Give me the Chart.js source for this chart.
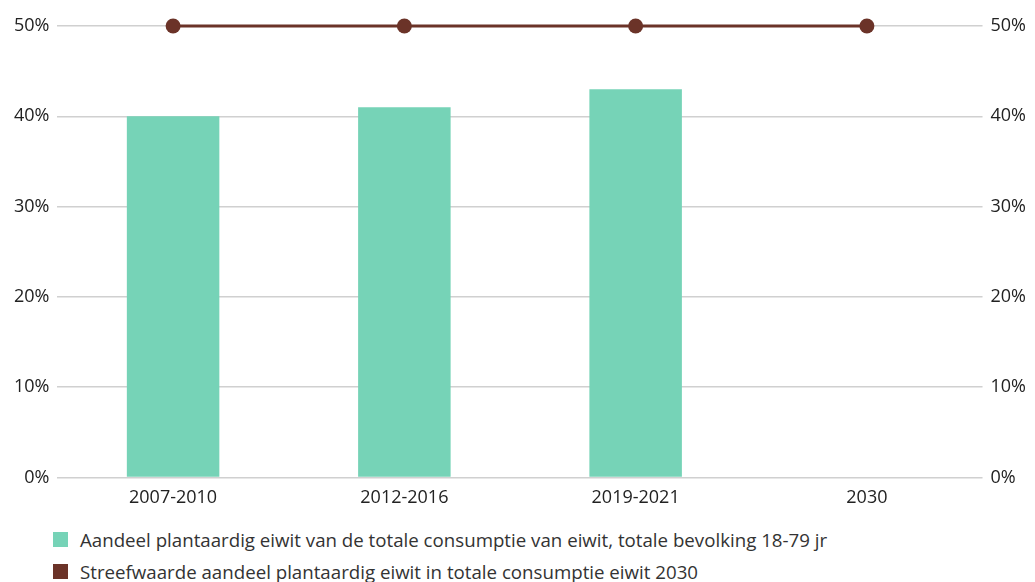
<!DOCTYPE html>
<html lang="nl">
<head>
<meta charset="utf-8">
<script src="https://cdn.jsdelivr.net/npm/chart.js@4/dist/chart.umd.min.js"></script>
<style>
  html, body { margin: 0; padding: 0; background: #fff; }
  body { width: 1035px; height: 582px; overflow: hidden; font-family: "Open Sans", sans-serif; color: #333; }
  .chart-container { position: relative; width: 1035px; height: 519px; }
  #legend { margin: 4px 0 0 53px; padding: 0; list-style: none; }
  #legend li { display: flex; align-items: center; height: 32px; font-size: 18.7px; color: #333; white-space: nowrap; }
  #legend .box { width: 15px; height: 15px; margin-right: 12px; flex: none; }
</style>
</head>
<body>
<div class="chart-container"><canvas id="chart"></canvas></div>
<ul id="legend"></ul>
<script>
// data
const periods = ['2007-2010', '2012-2016', '2019-2021', '2030'];
const aandeelPlantaardig = [40, 41, 43, null];
const streefwaarde = [50, 50, 50, 50];
const yTicks = [0, 10, 20, 30, 40, 50];

const labelBars = 'Aandeel plantaardig eiwit van de totale consumptie van eiwit, totale bevolking 18-79 jr';
const labelLine = 'Streefwaarde aandeel plantaardig eiwit in totale consumptie eiwit 2030';

const groen = '#76d3b7';
const bruin = '#6b3328';

const tickFont = { family: '"Open Sans", sans-serif', size: 18 };

function yAxis(position, showGrid) {
    return {
        position: position,
        min: 0,
        max: 50,
        afterBuildTicks: function(axis) {
            axis.ticks = yTicks.map(v => ({ value: v }));
        },
        ticks: {
            callback: v => v + '%',
            font: tickFont,
            color: '#222',
            padding: 8
        },
        grid: { display: showGrid, color: '#d0d0d0', lineWidth: 1.5, drawTicks: false },
        border: { display: false }
    };
}

const chart = new Chart(document.getElementById('chart'), {
    type: 'bar',
    data: {
        labels: periods,
        datasets: [
            {
                type: 'line',
                label: labelLine,
                data: streefwaarde,
                borderColor: bruin,
                backgroundColor: bruin,
                borderWidth: 3,
                pointRadius: 7.5,
                pointHoverRadius: 7.5,
                pointBackgroundColor: bruin,
                pointBorderWidth: 0,
                clip: false,
                yAxisID: 'y',
                order: 0
            },
            {
                type: 'bar',
                label: labelBars,
                data: aandeelPlantaardig,
                backgroundColor: groen,
                barPercentage: 0.4,
                categoryPercentage: 1,
                yAxisID: 'y',
                order: 1
            }
        ]
    },
    options: {
        responsive: true,
        maintainAspectRatio: false,
        animation: false,
        layout: { padding: { top: 26, left: 6, right: 1, bottom: 0 } },
        plugins: {
            legend: { display: false },
            tooltip: { enabled: false }
        },
        scales: {
            x: {
                grid: { display: false, drawTicks: false },
                border: { display: false },
                ticks: { font: tickFont, color: '#222', padding: 10 }
            },
            y: yAxis('left', true),
            y2: yAxis('right', false)
        }
    }
});

// legend in reference order: bars first, then target line
const legendEl = document.getElementById('legend');
[chart.data.datasets[1], chart.data.datasets[0]].forEach(ds => {
    const li = document.createElement('li');
    const box = document.createElement('span');
    box.className = 'box';
    box.style.background = ds.backgroundColor;
    li.appendChild(box);
    li.appendChild(document.createTextNode(ds.label));
    legendEl.appendChild(li);
});
</script>
</body>
</html>
